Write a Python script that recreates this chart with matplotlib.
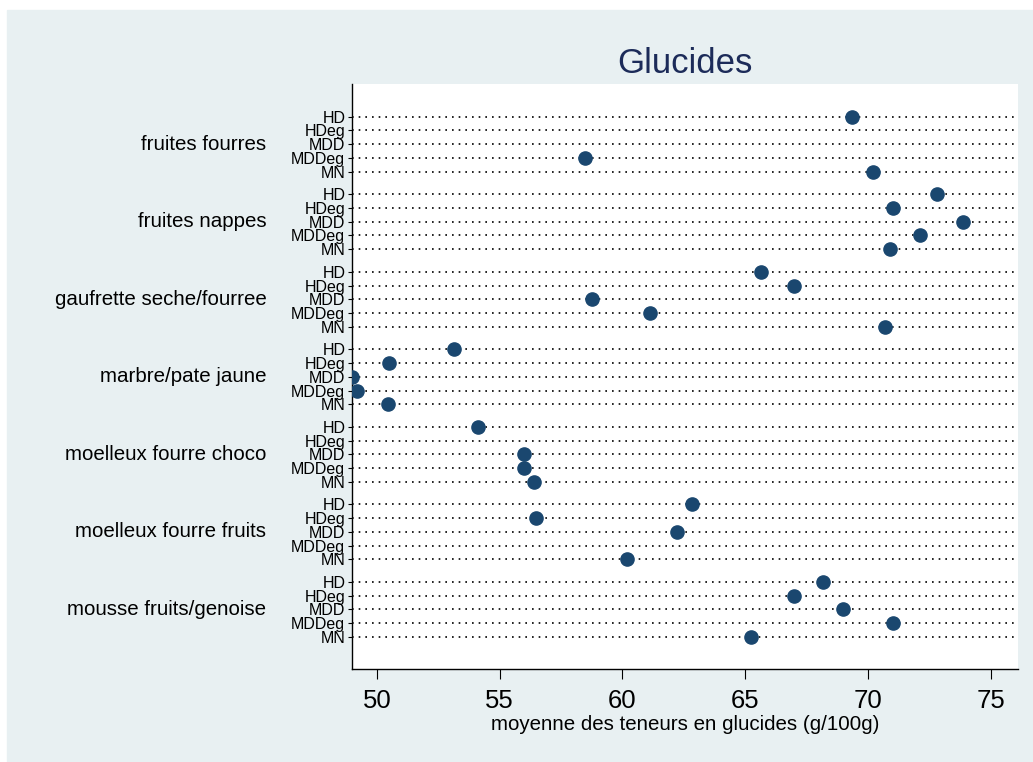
#!/usr/bin/env python3
"""Stata-style dot plot: mean carbohydrate content by product category and brand type."""
import matplotlib
matplotlib.use("Agg")
import matplotlib.pyplot as plt
import matplotlib.patches as mpatches
import numpy as np

plt.rcParams["font.family"] = ["Liberation Sans", "DejaVu Sans"]

# ── data ─────────────────────────────────────────────────────────────────────
groups = ["fruites fourres", "fruites nappes", "gaufrette seche/fourree",
          "marbre/pate jaune", "moelleux fourre choco", "moelleux fourre fruits",
          "mousse fruits/genoise"]
subgroups = ["HD", "HDeg", "MDD", "MDDeg", "MN"]

# one list per group, in subgroup order; None = no value
fruites_fourres = [69.35, None, None, 58.49, 70.22]
fruites_nappes = [72.80, 71.01, 73.89, 72.12, 70.91]
gaufrette = [65.65, 67.00, 58.78, 61.13, 70.71]
marbre = [53.15, 50.49, 48.99, 49.17, 50.46]
moelleux_choco = [54.12, None, 55.98, 55.98, 56.40]
moelleux_fruits = [62.85, 56.49, 62.24, None, 60.19]
mousse = [68.17, 67.00, 69.00, 71.01, 65.23]

values = [fruites_fourres, fruites_nappes, gaufrette, marbre,
          moelleux_choco, moelleux_fruits, mousse]

x_ticks = [50, 55, 60, 65, 70, 75]

NAVY = "#1a476f"
BG = "#e8f0f2"
GROUP_STEP = 5.64   # vertical distance between groups, in row units

# ── figure ───────────────────────────────────────────────────────────────────
fig = plt.figure(figsize=(10.33, 7.62), dpi=100)
bg = mpatches.Rectangle((7 / 1033, 0), 1, 752 / 762, transform=fig.transFigure,
                        color=BG, zorder=-10)
fig.add_artist(bg)
ax = fig.add_axes([0.341, 0.1217, 0.644, 0.7681])
ax.set_facecolor("white")

rows_y, rows_lab = [], []
for g, vals in enumerate(values):
    for i, (sub, v) in enumerate(zip(subgroups, vals)):
        y = g * GROUP_STEP + i
        rows_y.append(y)
        rows_lab.append(sub)
        ax.axhline(y, color="black", lw=1.2, ls=(0, (1, 3)), zorder=1)
        if v is not None:
            ax.plot(v, y, "o", ms=9.5, color=NAVY, mec=NAVY, zorder=3)
    ax.text(-0.129, g * GROUP_STEP + 2, groups[g], transform=ax.get_yaxis_transform(),
            ha="right", va="center", fontsize=14.8, color="black")

all_vals = [v for vals in values for v in vals if v is not None]
ax.set_xlim(min(all_vals), 76.1)
ax.set_ylim(rows_y[-1] + 2.35, -2.38)

ax.set_yticks(rows_y)
ax.set_yticklabels(rows_lab, fontsize=11.5)
ax.tick_params(axis="y", length=3, width=0.8, pad=2)

ax.set_xticks(x_ticks)
ax.set_xticklabels([str(t) for t in x_ticks], fontsize=18.5)
ax.tick_params(axis="x", length=7.5, width=0.8, pad=7)

for s in ("top", "right"):
    ax.spines[s].set_visible(False)
for s in ("left", "bottom"):
    ax.spines[s].set_linewidth(1.0)

ax.set_xlabel("moyenne des teneurs en glucides (g/100g)", fontsize=14.8, labelpad=1)
ax.set_title("Glucides", fontsize=25, color="#1c2b59", pad=8)

fig.savefig("out.png", dpi=100)
